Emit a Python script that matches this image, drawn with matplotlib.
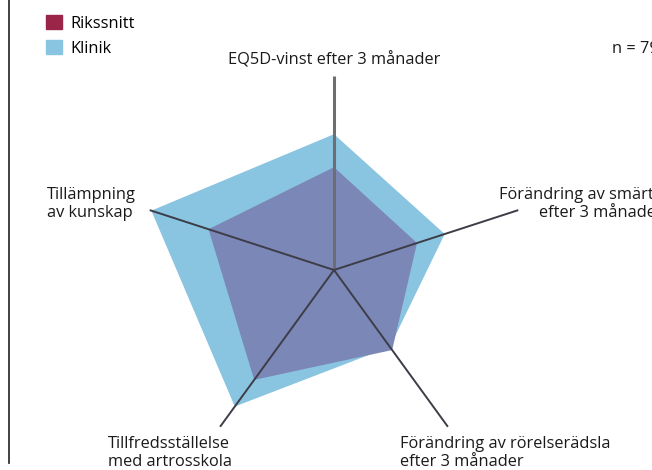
import numpy as np
import matplotlib
matplotlib.use("Agg")
import matplotlib.pyplot as plt
from matplotlib.lines import Line2D
from matplotlib.patches import Patch

plt.rcParams['font.family'] = ['Open Sans', 'DejaVu Sans']

# data (share of axis length)
categories = ["EQ5D-vinst efter 3 månader",
              "Förändring av smärta\nefter 3 månader",
              "Förändring av rörelserädsla\nefter 3 månader",
              "Tillfredsställelse\nmed artrosskola",
              "Tillämpning\nav kunskap"]
klinik = [0.70, 0.60, 0.49, 0.87, 0.99]
rikssnitt = [0.53, 0.45, 0.51, 0.70, 0.68]
n_text = "n = 79"

W, H = 652, 470
FS = 11.8
fig = plt.figure(figsize=(W / 100, H / 100), dpi=100)

# polar axes centred at (334, 270) px, radius ~194 px
cx, cy, R = 334, 270, 194
ax = fig.add_axes([(cx - R) / W, (H - cy - R) / H, 2 * R / W, 2 * R / H],
                  projection='polar')
ax.set_theta_offset(np.pi / 2)
ax.set_theta_direction(-1)
ax.set_ylim(0, 1)
ax.grid(False)
ax.set_xticks([])
ax.set_yticks([])
ax.spines['polar'].set_visible(False)
ax.patch.set_alpha(0)

theta = np.linspace(0, 2 * np.pi, len(categories), endpoint=False)

def closed(vals):
    return np.append(theta, theta[0]), np.append(vals, vals[0])

t, k = closed(klinik)
ax.fill(t, k, color='#89c4e1', lw=0, zorder=1)
t, r = closed(rikssnitt)
ax.fill(t, r, color='#7b87b7', lw=0, zorder=2)

for i, th in enumerate(theta):
    if i == 0:
        ax.plot([th, th], [0, 1], color='#6e6e72', lw=2.2, zorder=3,
                solid_capstyle='butt')
    else:
        ax.plot([th, th], [0, 1], color='#3d3d48', lw=1.4, zorder=3,
                solid_capstyle='butt')

# labels in figure pixels
def ft(x, y, s, **kw):
    fig.text(x / W, 1 - y / H, s, fontsize=FS, color='#1a1a1a',
             linespacing=1.15, **kw)

ft(334, 60, categories[0], ha='center', va='center')
ft(663, 204, categories[1], ha='right', va='center', multialignment='right')
ft(400, 453, categories[2], ha='left', va='center')
ft(108, 453, categories[3], ha='left', va='center')
ft(47, 204, categories[4], ha='left', va='center')
ft(612, 49, n_text, ha='left', va='center')

# legend
handles = [Patch(color='#9b2548', label='Rikssnitt'),
           Patch(color='#89c4e1', label='Klinik')]
fig.legend(handles=handles, loc='upper left', bbox_to_anchor=(39 / W, 1 - 8 / H),
           frameon=False, fontsize=FS, handlelength=1.0, handleheight=1.0,
           handletextpad=0.5, labelspacing=0.5, borderaxespad=0)

# left border line
fig.add_artist(Line2D([9 / W, 9 / W], [1 - 463 / H, 1], color='#333333', lw=1.3,
                      transform=fig.transFigure))

fig.savefig('out.png', dpi=100)
